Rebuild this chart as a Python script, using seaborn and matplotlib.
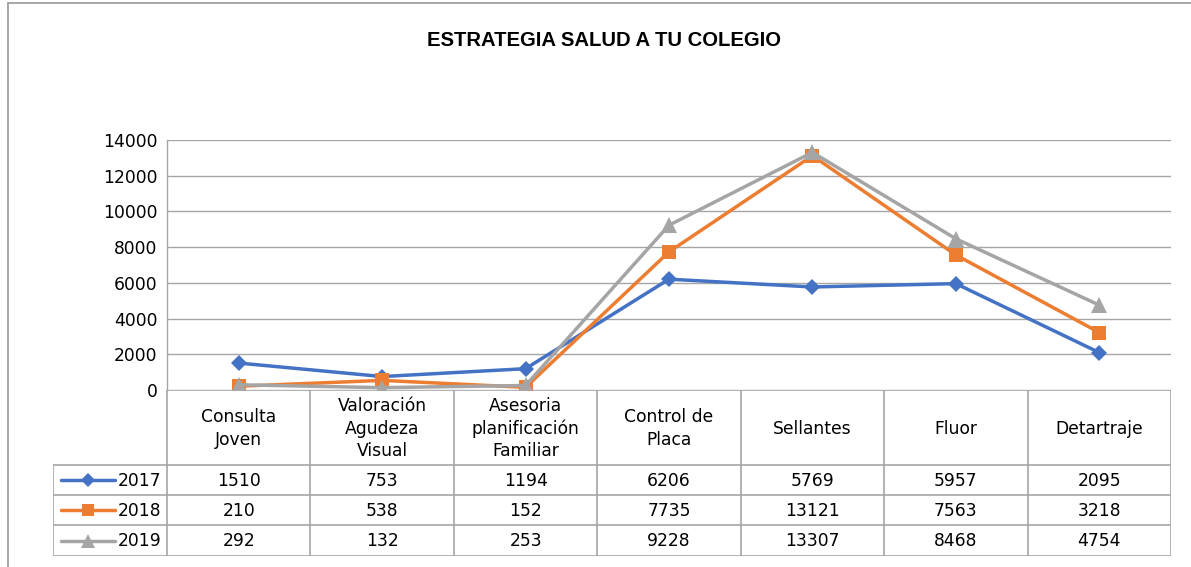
import matplotlib
matplotlib.use("Agg")
import matplotlib.pyplot as plt
from matplotlib.lines import Line2D
import seaborn as sns
import pandas as pd

# --- data ---------------------------------------------------------------
categorias = ["Consulta\nJoven", "Valoración\nAgudeza\nVisual",
              "Asesoria\nplanificación\nFamiliar", "Control de\nPlaca",
              "Sellantes", "Fluor", "Detartraje"]
anios = ["2017", "2018", "2019"]
valores_2017 = [1510, 753, 1194, 6206, 5769, 5957, 2095]
valores_2018 = [210, 538, 152, 7735, 13121, 7563, 3218]
valores_2019 = [292, 132, 253, 9228, 13307, 8468, 4754]
y_ticks = [0, 2000, 4000, 6000, 8000, 10000, 12000, 14000]
titulo = "ESTRATEGIA SALUD A TU COLEGIO"

series = {"2017": valores_2017, "2018": valores_2018, "2019": valores_2019}
colores = {"2017": "#4472C4", "2018": "#ED7D31", "2019": "#A5A5A5"}
marcadores = {"2017": "D", "2018": "s", "2019": "^"}
tam_marcador = {"2017": 8.5, "2018": 9.5, "2019": 11}

df = pd.DataFrame(
    [(c, a, v) for a in anios for c, v in zip(categorias, series[a])],
    columns=["categoria", "anio", "valor"],
)

# --- figure -------------------------------------------------------------
sns.set_theme(style="white")
plt.rcParams["font.family"] = ["DejaVu Sans"]
TXT = 12.3
GRID = "#A6A6A6"

W, H = 1191, 567
fig = plt.figure(figsize=(W / 100, H / 100), dpi=100)
fig.patch.set_facecolor("white")

# chart frame (left and top edges)
fig.add_artist(Line2D([8 / W, 8 / W], [0, 1 - 3 / H], color="#A0A0A0", lw=1.3))
fig.add_artist(Line2D([8 / W, 1], [1 - 3 / H, 1 - 3 / H], color="#A0A0A0", lw=1.3))

fig.text(604 / W, 1 - 40 / H, titulo, ha="center", va="center",
         fontsize=14.6, fontweight="bold", family="Liberation Sans", color="#000000")

# plot area
x0, x1, ytop, ybot = 167, 1171, 140, 390
ax = fig.add_axes([x0 / W, 1 - ybot / H, (x1 - x0) / W, (ybot - ytop) / H])

for anio in anios:
    sub = df[df["anio"] == anio]
    sns.lineplot(data=sub, x="categoria", y="valor", color=colores[anio],
                 marker=marcadores[anio], markersize=tam_marcador[anio],
                 markeredgewidth=0, linewidth=2.5, sort=False, ax=ax,
                 legend=False)

ax.set_xlim(-0.5, len(categorias) - 0.5)
ax.set_ylim(0, 14000)
ax.set_yticks(y_ticks)
ax.set_yticklabels([str(t) for t in y_ticks], fontsize=TXT, color="#000000")
ax.set_xticks([])
ax.set_xlabel("")
ax.set_ylabel("")
ax.tick_params(axis="y", length=0, pad=7)
ax.yaxis.grid(True, color=GRID, linewidth=1.0)
ax.set_axisbelow(True)
for s in ["top", "right", "bottom"]:
    ax.spines[s].set_visible(False)
ax.spines["left"].set_color(GRID)
ax.spines["left"].set_linewidth(1.0)
ax.set_facecolor("none")

# data table under the plot
t_left, t_bot = 53, 556
tax = fig.add_axes([t_left / W, 1 - t_bot / H, (x1 - t_left) / W, (t_bot - ybot) / H])
col_w = (x1 - x0) / len(categorias)
leg_w = (x0 - t_left) / col_w
xl = -0.5 - leg_w
xr = len(categorias) - 0.5
tax.set_xlim(xl, xr)
tax.set_ylim(t_bot - ybot, 0)
tax.axis("off")

hdr = 75
row_edges = [hdr, hdr + 30, hdr + 60, t_bot - ybot]
lw_t = 1.2
# horizontal rules
tax.plot([-0.5, xr], [0, 0], color=GRID, lw=lw_t)
for yy in row_edges:
    tax.plot([xl, xr], [yy, yy], color=GRID, lw=lw_t)
# vertical rules
for i in range(len(categorias) + 1):
    xx = -0.5 + i
    tax.plot([xx, xx], [0, row_edges[-1]], color=GRID, lw=lw_t)
tax.plot([xl, xl], [hdr, row_edges[-1]], color=GRID, lw=lw_t)

# header labels
for i, c in enumerate(categorias):
    tax.text(i, hdr / 2 + 1, c, ha="center", va="center", fontsize=TXT,
             linespacing=1.3, color="#000000")

# rows with legend keys
for r, anio in enumerate(anios):
    yc = (row_edges[r] + row_edges[r + 1]) / 2
    kx0 = xl + (61 - t_left) / col_w
    kx1 = xl + (115 - t_left) / col_w
    tax.plot([kx0, kx1], [yc, yc], color=colores[anio], lw=2.5)
    tax.plot([(kx0 + kx1) / 2], [yc], marker=marcadores[anio],
             markersize=tam_marcador[anio] - 1, color=colores[anio],
             markeredgewidth=0)
    tax.text(xl + (118 - t_left) / col_w, yc + 1, anio, ha="left", va="center",
             fontsize=TXT, color="#000000")
    for i, v in enumerate(series[anio]):
        tax.text(i, yc + 1, str(v), ha="center", va="center", fontsize=TXT,
                 color="#000000")

fig.savefig("out.png", dpi=100, facecolor="white")
